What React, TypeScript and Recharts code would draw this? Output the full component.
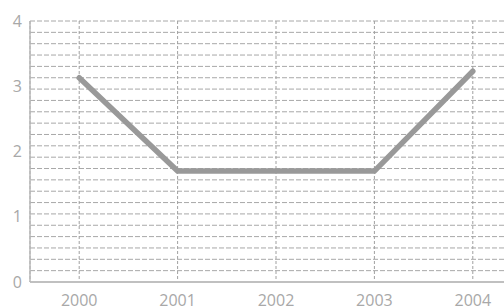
import React from "react";
import { LineChart, Line, XAxis, YAxis, CartesianGrid } from "recharts";

const years = ["2000", "2001", "2002", "2003", "2004"];
const values = [3.13, 1.7, 1.7, 1.7, 3.23];
const yTicks = [0, 1, 2, 3, 4];
const gridSteps = 23;
const gridIndex = [1, 2, 3, 4, 5, 6, 7, 8, 9, 10, 11, 12, 13, 14, 15, 16, 17, 18, 19, 20, 21, 22, 23];
const yMax = 4;

const data = years.map((y, i) => ({ year: y, value: values[i] }));
const gridValues = gridIndex.map((k) => (k * yMax) / gridSteps);

const tickStyle = { fill: "#a8a8a8", fontSize: 16, fontFamily: "'Open Sans', sans-serif" };

export default function App() {
  return (
    <div style={{ position: "absolute", left: 0, top: 0, width: 504, height: 308, overflow: "hidden", background: "#fff" }}>
      <LineChart width={522} height={308} data={data} margin={{ top: 21, right: 0, bottom: 0, left: 0 }}>
        <CartesianGrid
          stroke="#a8a8a8"
          strokeDasharray="5 2"
          horizontal={true}
          vertical={false}
          horizontalCoordinatesGenerator={(props: any) => {
            const scale = props.yAxis && props.yAxis.scale;
            if (typeof scale === "function") return gridValues.map((v) => scale(v));
            const top = props.offset.top;
            const h = props.offset.height;
            return gridValues.map((v) => top + h - (v / yMax) * h);
          }}
        />
        <CartesianGrid
          stroke="#a0a0a0"
          strokeDasharray="3 2"
          horizontal={false}
          vertical={true}
        />
        <XAxis
          dataKey="year"
          scale="band"
          tickLine={false}
          tickSize={0}
          tickMargin={13}
          height={26}
          axisLine={{ stroke: "#c0c0c0", strokeWidth: 2 }}
          tick={tickStyle}
        />
        <YAxis
          domain={[0, yMax]}
          ticks={yTicks}
          width={30}
          tickLine={false}
          tickSize={0}
          tickMargin={8}
          axisLine={{ stroke: "#b8b8b8", strokeWidth: 1.5 }}
          tick={tickStyle}
        />
        <Line
          type="linear"
          dataKey="value"
          stroke="#999999"
          strokeWidth={5.5}
          dot={false}
          activeDot={false}
          strokeLinecap="round"
          isAnimationActive={false}
        />
      </LineChart>
    </div>
  );
}
